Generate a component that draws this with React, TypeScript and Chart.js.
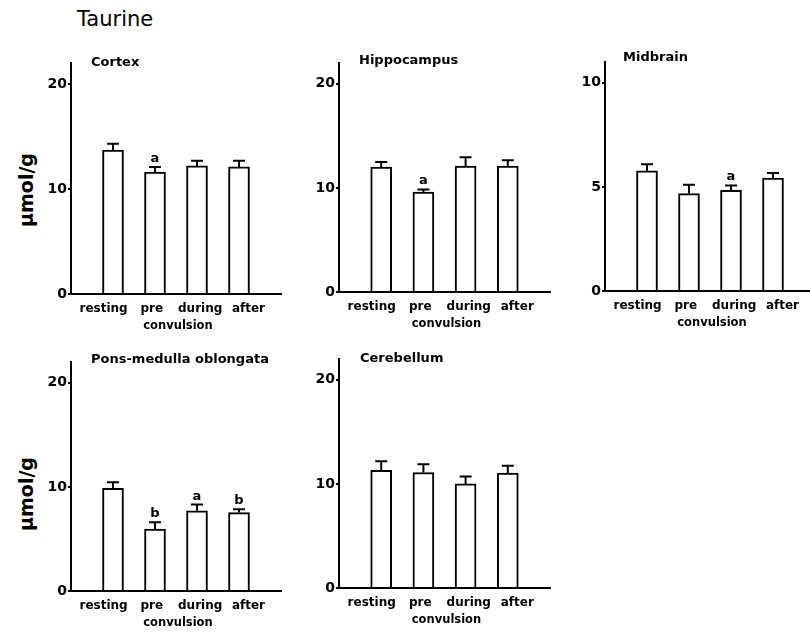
import React, { useEffect, useRef } from 'react';
import { Chart, registerables } from 'chart.js';

Chart.register(...registerables);

const mainTitle = 'Taurine';
const yAxisLabel = 'μmol/g';
const categories = ['resting', 'pre', 'during', 'after'];
const convulsionLabel = 'convulsion';

const regionNames = ['Cortex', 'Hippocampus', 'Midbrain', 'Pons-medulla oblongata', 'Cerebellum'];

const cortexMean = [13.7, 11.6, 12.2, 12.1];
const cortexSem = [0.6, 0.5, 0.5, 0.6];
const cortexSig = ['', 'a', '', ''];

const hippocampusMean = [12.0, 9.6, 12.1, 12.1];
const hippocampusSem = [0.5, 0.25, 0.85, 0.55];
const hippocampusSig = ['', 'a', '', ''];

const midbrainMean = [5.77, 4.68, 4.83, 5.42];
const midbrainSem = [0.32, 0.42, 0.24, 0.25];
const midbrainSig = ['', '', 'a', ''];

const ponsMean = [9.87, 5.96, 7.7, 7.53];
const ponsSem = [0.58, 0.64, 0.6, 0.33];
const ponsSig = ['', 'b', 'a', 'b'];

const cerebellumMean = [11.3, 11.1, 10.0, 11.05];
const cerebellumSem = [0.87, 0.8, 0.7, 0.7];
const cerebellumSig = ['', '', '', ''];

const yTicksWide = [0, 10, 20];
const yTicksMidbrain = [0, 5, 10];
const yMaxWide = 22;
const yMaxMidbrain = 11;

const FONT = 'DejaVu Sans';

// layout frames: axis x, top pixel (y max), bottom pixel (y = 0), right end of x axis, title pos
const frames = [
  { ax: 71, top: 63, bottom: 294, right: 281, tx: 91, ty: 55 },
  { ax: 339, top: 63, bottom: 292, right: 550, tx: 359, ty: 53 },
  { ax: 605, top: 62, bottom: 291, right: 815, tx: 623, ty: 50 },
  { ax: 71, top: 362, bottom: 591, right: 281, tx: 91, ty: 352 },
  { ax: 339, top: 359, bottom: 588, right: 550, tx: 360, ty: 351 },
];

const panels = [
  { name: regionNames[0], mean: cortexMean, sem: cortexSem, sig: cortexSig, yMax: yMaxWide, yTicks: yTicksWide },
  { name: regionNames[1], mean: hippocampusMean, sem: hippocampusSem, sig: hippocampusSig, yMax: yMaxWide, yTicks: yTicksWide },
  { name: regionNames[2], mean: midbrainMean, sem: midbrainSem, sig: midbrainSig, yMax: yMaxMidbrain, yTicks: yTicksMidbrain },
  { name: regionNames[3], mean: ponsMean, sem: ponsSem, sig: ponsSig, yMax: yMaxWide, yTicks: yTicksWide },
  { name: regionNames[4], mean: cerebellumMean, sem: cerebellumSem, sig: cerebellumSig, yMax: yMaxWide, yTicks: yTicksWide },
];

const Y_W = 60;
const X_H = 45;
const PAD_T = 12;
const PAD_R = 10;
const LABEL_SPREAD = 1.15;

function Panel({ panel, frame }: any) {
  const ref = useRef<HTMLCanvasElement | null>(null);
  const width = Y_W + (frame.right - frame.ax) + PAD_R;
  const height = PAD_T + (frame.bottom - frame.top) + X_H;

  useEffect(() => {
    if (!ref.current) return;
    const labels = ['', ...categories, ''];
    const data = [null, ...panel.mean, null];

    const errPlugin = {
      id: 'errbars',
      afterDatasetsDraw(chart: any) {
        const { ctx, scales, chartArea } = chart;
        const x = scales.x;
        const y = scales.y;
        ctx.save();
        ctx.strokeStyle = '#000';
        ctx.fillStyle = '#000';
        ctx.lineWidth = 2;
        panel.mean.forEach((m: number, i: number) => {
          const px = x.getPixelForValue(i + 1);
          const y0 = y.getPixelForValue(m);
          const y1 = y.getPixelForValue(m + panel.sem[i]);
          ctx.beginPath();
          ctx.moveTo(px, y0);
          ctx.lineTo(px, y1);
          ctx.moveTo(px - 6, y1);
          ctx.lineTo(px + 6, y1);
          ctx.stroke();
          if (panel.sig[i]) {
            ctx.font = `bold 13px "${FONT}"`;
            ctx.textAlign = 'center';
            ctx.textBaseline = 'alphabetic';
            ctx.fillText(panel.sig[i], px, y1 - 5);
          }
        });
        // category labels (typed row in original, slightly wider than bar spacing)
        const mid = (x.getPixelForValue(1) + x.getPixelForValue(categories.length)) / 2;
        ctx.font = `bold 12px "${FONT}"`;
        ctx.textAlign = 'center';
        ctx.textBaseline = 'middle';
        categories.forEach((c, i) => {
          const px = x.getPixelForValue(i + 1);
          ctx.fillText(c, mid + (px - mid) * LABEL_SPREAD, chartArea.bottom + 15);
        });
        const cx = (x.getPixelForValue(2) + x.getPixelForValue(3)) / 2 + 2;
        ctx.font = `bold 11.5px "${FONT}"`;
        ctx.fillText(convulsionLabel, cx, chartArea.bottom + 32);
        ctx.restore();
      },
    };

    const chart = new Chart(ref.current, {
      type: 'bar',
      data: {
        labels,
        datasets: [
          {
            data,
            backgroundColor: '#fff',
            borderColor: '#000',
            borderWidth: 2,
            barThickness: 21,
            borderSkipped: 'bottom',
          },
        ],
      },
      options: {
        animation: false,
        responsive: false,
        devicePixelRatio: 1,
        layout: { padding: { top: PAD_T, right: PAD_R, left: 0, bottom: 0 } },
        plugins: { legend: { display: false }, tooltip: { enabled: false }, title: { display: false } },
        scales: {
          x: {
            type: 'category',
            offset: false,
            grid: { display: false, drawTicks: false },
            border: { display: true, color: '#000', width: 2 },
            ticks: { display: false, autoSkip: false, maxRotation: 0, minRotation: 0, padding: 6 },
            afterFit: (s: any) => {
              s.height = X_H;
            },
          },
          y: {
            type: 'linear',
            min: 0,
            max: panel.yMax,
            afterBuildTicks: (s: any) => {
              s.ticks = panel.yTicks.map((v: number) => ({ value: v }));
            },
            grid: { display: true, drawOnChartArea: false, drawTicks: true, tickLength: 3, color: '#000', lineWidth: 2 },
            border: { display: true, color: '#000', width: 2 },
            ticks: {
              padding: 1,
              color: '#000',
              font: { family: FONT, size: 14, weight: 'bold' },
            },
            afterFit: (s: any) => {
              s.width = Y_W;
            },
          },
        },
      },
      plugins: [errPlugin],
    });
    return () => chart.destroy();
  }, []);

  return (
    <>
      <canvas
        ref={ref}
        width={width}
        height={height}
        style={{ position: 'absolute', left: frame.ax - Y_W, top: frame.top - PAD_T, width, height }}
      />
      <div
        style={{
          position: 'absolute',
          left: frame.tx,
          top: frame.ty,
          fontFamily: FONT,
          fontWeight: 'bold',
          fontSize: 13,
          lineHeight: '1',
          whiteSpace: 'nowrap',
          color: '#000',
        }}
      >
        {panel.name}
      </div>
    </>
  );
}

export default function App() {
  const yLabelStyle: any = {
    position: 'absolute',
    left: 26,
    fontFamily: FONT,
    fontWeight: 'bold',
    fontSize: 19,
    lineHeight: '1',
    whiteSpace: 'nowrap',
    transform: 'translate(-50%, -50%) rotate(-90deg)',
    color: '#000',
  };
  return (
    <div
      style={{
        position: 'absolute',
        left: 0,
        top: 0,
        width: 810,
        height: 633,
        overflow: 'hidden',
        background: '#fff',
      }}
    >
      <div
        style={{
          position: 'absolute',
          left: 77,
          top: 9,
          fontFamily: FONT,
          fontSize: 21,
          fontWeight: 'normal',
          lineHeight: '1',
          whiteSpace: 'nowrap',
          color: '#000',
        }}
      >
        {mainTitle}
      </div>
      <div style={{ ...yLabelStyle, top: 190 }}>{yAxisLabel}</div>
      <div style={{ ...yLabelStyle, top: 494 }}>{yAxisLabel}</div>
      {panels.map((p, i) => (
        <Panel key={i} panel={p} frame={frames[i]} />
      ))}
    </div>
  );
}
